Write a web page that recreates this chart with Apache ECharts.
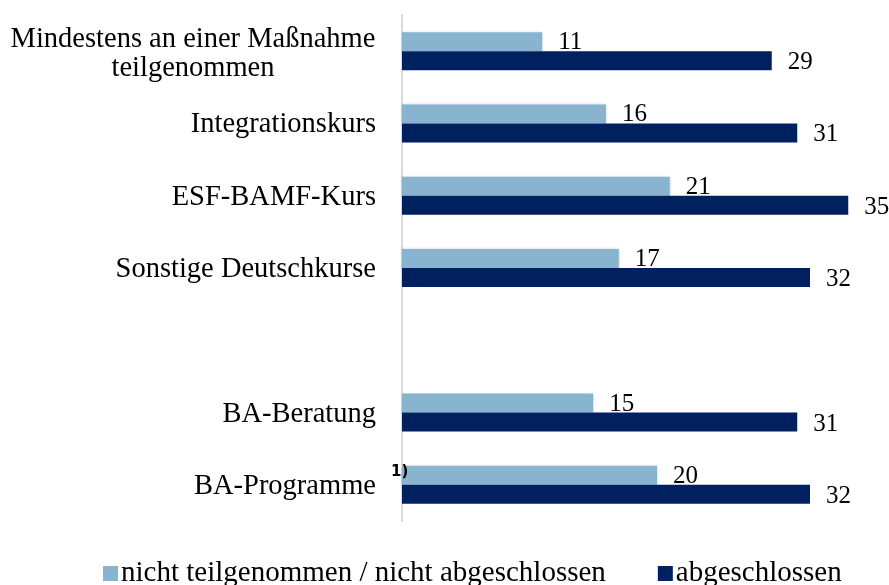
<!DOCTYPE html>
<html>
<head>
<meta charset="utf-8">
<script src="https://cdn.jsdelivr.net/npm/echarts@6/dist/echarts.min.js"></script>
<style>
  html, body { margin: 0; padding: 0; background: #fff; }
  #chart { width: 889px; height: 585px; }
</style>
</head>
<body>
<div id="chart"></div>
<script>
// categories top to bottom, '' is the empty row between the two groups
var categories = ['Mindestens an einer Maßnahme\nteilgenommen', 'Integrationskurs', 'ESF-BAMF-Kurs', 'Sonstige Deutschkurse', '', 'BA-Beratung', 'BA-Programme']
var nichtAbgeschlossen = [11, 16, 21, 17, '-', 15, 20]
var abgeschlossen = [29, 31, 35, 32, '-', 31, 32]
var seriesNames = ['nicht teilgenommen / nicht abgeschlossen', 'abgeschlossen']

var font = 'Liberation Serif'
var myChart = echarts.init(document.getElementById('chart'))

var option = {
  animation: false,
  textStyle: { fontFamily: font },
  grid: {
    left: 402,
    right: 28,
    top: 15,
    bottom: 64
  },
  legend: {
    bottom: -8,
    left: 98,
    itemWidth: 15,
    itemHeight: 15,
    itemGap: 52,
    icon: 'rect',
    textStyle: { fontFamily: font, fontSize: 29, color: '#000', padding: [0, 0, 0, -2] },
    data: seriesNames
  },
  xAxis: {
    type: 'value',
    min: 0,
    max: 36,
    show: false
  },
  yAxis: {
    type: 'category',
    inverse: true,
    data: categories,
    axisLine: { show: true, lineStyle: { color: '#d9d9d9', width: 2 } },
    axisTick: { show: false },
    axisLabel: {
      margin: 26,
      fontFamily: font,
      fontSize: 28.5,
      color: '#000',
      padding: [3, 0, 0, 0],
      formatter: function (value) {
        if (value.indexOf('\n') >= 0) {
          return '{c|' + value + '}'
        }
        return value
      },
      rich: {
        c: { fontFamily: font, fontSize: 28.5, color: '#000', width: 366, align: 'center', lineHeight: 29, padding: [2, 0, 0, 0] }
      }
    }
  },
  series: [
    {
      name: seriesNames[0],
      type: 'bar',
      data: nichtAbgeschlossen,
      barWidth: 19,
      barGap: '0%',
      itemStyle: { color: '#88b4cf', shadowBlur: 3, shadowColor: 'rgba(0,0,0,0.2)' },
      label: {
        show: true,
        position: 'right',
        distance: 16,
        offset: [0, 1],
        fontFamily: font,
        fontSize: 25,
        color: '#000'
      }
    },
    {
      name: seriesNames[1],
      type: 'bar',
      data: abgeschlossen,
      barWidth: 19,
      itemStyle: { color: '#00205f' },
      label: {
        show: true,
        position: 'right',
        distance: 16,
        offset: [0, 2],
        fontFamily: font,
        fontSize: 25,
        color: '#000'
      }
    }
  ]
}
myChart.setOption(option)

// footnote marker "1)" next to BA-Programme
var pos = myChart.convertToPixel({ xAxisIndex: 0, yAxisIndex: 0 }, [0, 'BA-Programme'])
myChart.setOption({
  graphic: [{
    type: 'text',
    z: 100,
    x: pos[0] - 11,
    y: pos[1] - 13,
    style: {
      text: '1)',
      font: 'bold 15px "DejaVu Sans"',
      fill: '#000',
      textAlign: 'left',
      textVerticalAlign: 'middle'
    }
  }]
})
</script>
</body>
</html>
